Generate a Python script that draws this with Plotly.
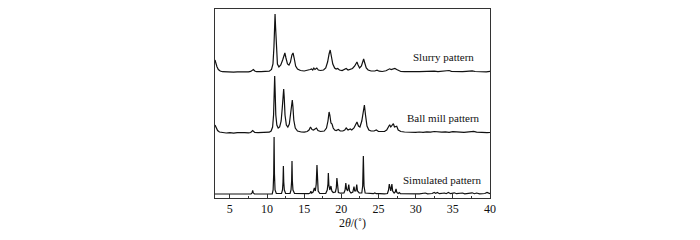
import plotly.graph_objects as go

# 2theta (deg), intensity (a.u., relative to each pattern's own baseline)
sim_points = [(3.0,0),(5.0,0),(7.85,0),(8.0,1.2),(8.07,3.5),(8.14,1.2),(8.3,0),
(10.7,0),(10.82,4),(10.9,20),(10.95,57),(11.0,20),(11.08,4),(11.25,0.5),
(11.95,0.5),(12.08,4),(12.15,12),(12.2,28),(12.25,12),(12.33,4),(12.5,0.5),
(13.1,0.5),(13.23,4),(13.31,13),(13.36,33),(13.41,13),(13.49,4),(13.7,0.5),
(15.6,0.3),(15.8,1),(15.9,2.7),(16.0,1),(16.2,2),(16.37,6),(16.5,3),(16.62,10),(16.72,29),(16.78,11),(16.88,3),(17.1,0.5),
(17.9,0.5),(18.1,4),(18.2,10),(18.25,21),(18.32,9),(18.45,4),(18.6,8),(18.72,3),(18.9,1.5),(19.2,2),(19.32,6),(19.4,16),(19.47,6),(19.6,1.5),(19.9,0.8),
(20.35,1),(20.5,4),(20.6,11),(20.7,5),(20.85,3),(21.0,9.5),(21.1,3),(21.3,1),(21.55,2),(21.7,7.5),(21.8,3),(21.95,3),(22.07,9.5),(22.17,3),(22.4,1),
(22.75,1),(22.87,8),(22.96,38),(23.05,8),(23.2,1),(23.6,0.5),
(24.3,0.3),(24.5,1),(24.7,0.3),(25.2,0.3),(25.5,0.6),(25.8,0.2),
(26.2,0.5),(26.35,4),(26.45,10),(26.55,4),(26.65,3),(26.8,10),(26.9,3),(27.1,1),(27.25,2),(27.36,5),(27.46,1.5),(27.65,0.5),(27.8,1.5),(27.95,0.3),
(29.0,0),(30.5,0.2),(31.3,1),(31.6,0.2),(32.2,0.5),(32.5,1.5),(32.7,0.6),(32.9,1.5),(33.2,0.3),(33.9,1),(34.1,0.3),(34.4,1.5),(34.7,0.3),(35.2,1.2),(35.5,0.3),(36.0,0.8),(36.3,1),(36.6,0.2),(37.3,0.5),(37.6,1.2),(37.9,0.3),(38.2,1),(38.6,0.2),(39.3,0.5),(39.6,1.5),(39.85,0.3),(40,0.3)]

ball_points = [(3.0,8),(3.15,5),(3.35,2.5),(3.6,1),(4.0,0.3),(4.5,0),(5,0.3),(5.5,-0.2),(6,0.3),(6.5,0),(7,0.4),(7.5,0.2),(7.8,0.5),(8.07,2.5),(8.35,0.6),(8.8,0.3),(9.3,0.6),(9.8,0.4),(10.3,0.8),(10.55,2),(10.75,6),(10.88,18),(10.96,40),(11.03,57),(11.1,40),(11.18,18),(11.32,8),(11.5,5),(11.7,6),(11.9,12),(12.05,25),(12.17,40),(12.24,44),(12.31,36),(12.42,18),(12.6,8),(12.8,6),(13.0,9),(13.17,18),(13.3,29),(13.4,33),(13.48,27),(13.6,13),(13.8,5),(14.1,2),(14.6,1),(15.0,0.8),(15.4,1.5),(15.65,3),(15.85,6),(16.05,3.5),(16.25,3),(16.5,4.5),(16.65,5),(16.85,2.5),(17.2,1.5),(17.7,2),(18.0,5),(18.2,12),(18.35,21),(18.45,18),(18.6,10),(18.75,9),(18.9,5),(19.1,3),(19.3,2.5),(19.6,3.5),(19.85,2),(20.2,2),(20.45,3),(20.65,5),(20.9,3),(21.2,4),(21.4,3),(21.7,5),(21.95,9),(22.1,11),(22.3,7),(22.5,6),(22.75,12),(22.95,24),(23.1,28),(23.25,18),(23.45,7),(23.7,3),(24.0,2),(24.4,2),(24.7,3),(25.0,1.5),(25.4,1.2),(25.8,1.5),(26.1,3),(26.35,6),(26.5,8.3),(26.65,6),(26.8,7),(27.0,9.3),(27.15,6),(27.3,6),(27.45,6.7),(27.65,3),(28.0,1.5),(28.5,1),(29,0.8),(29.5,1.2),(30,0.6),(30.5,1),(31,0.7),(31.5,1.2),(32,0.8),(32.5,1.5),(33,1),(33.5,0.8),(34,1.2),(34.5,0.6),(35,1.3),(35.5,0.8),(36,0.9),(36.5,0.6),(37,1),(37.5,1.3),(37.8,1.6),(38.2,0.9),(38.7,0.5),(39.2,0.8),(39.6,0.3),(40,0.5)]

slurry_points = [(3.0,12),(3.1,9),(3.25,5.5),(3.45,2.5),(3.7,1),(4.0,0.3),(4.5,0),(5,0.2),(5.5,-0.2),(6,0.2),(6.5,0),(7,0.3),(7.5,0.1),(7.8,0.6),(8.0,1.5),(8.16,2.5),(8.35,1),(8.6,0.3),(9.2,0.4),(9.8,0.3),(10.3,0.8),(10.6,2.5),(10.8,8),(10.93,25),(11.02,50),(11.08,58),(11.15,45),(11.25,20),(11.4,8),(11.6,5),(11.85,7),(12.1,12),(12.28,18),(12.4,19),(12.55,14),(12.75,8),(12.95,7),(13.15,10),(13.35,17),(13.5,19),(13.65,14),(13.85,6),(14.1,3),(14.5,1.5),(15.0,1),(15.5,1.5),(15.8,2.5),(16.0,3),(16.15,2),(16.3,4),(16.45,2.5),(16.7,4),(16.9,2),(17.2,1.5),(17.6,2),(17.9,4),(18.15,10),(18.35,18),(18.5,22),(18.65,16),(18.85,8),(19.1,4),(19.3,3),(19.5,3.5),(19.75,2),(20.1,1.5),(20.4,2.5),(20.65,3.5),(20.9,2),(21.2,2.5),(21.5,3.5),(21.8,6),(22.0,9),(22.1,10),(22.25,7),(22.45,4),(22.7,6),(22.9,11),(23.0,13),(23.15,9),(23.35,4),(23.6,2),(24.0,1),(24.5,1),(24.8,1.8),(25.1,0.8),(25.5,0.5),(26.0,1.2),(26.3,2.5),(26.5,3.2),(26.7,2.5),(26.9,3),(27.2,3.5),(27.45,2.5),(27.7,1.2),(28.0,0.5),(28.5,0.3),(29,0.6),(29.5,0.2),(30,0.5),(30.5,0.3),(31,0.6),(31.5,0.2),(32,0.5),(32.5,0.8),(33,0.4),(33.5,0.6),(34,0.8),(34.5,1.5),(34.8,0.7),(35.3,0.4),(35.8,0.8),(36.3,0.3),(36.8,0.6),(37.3,0.8),(37.6,1.2),(38,0.5),(38.5,0.3),(39,0.7),(39.5,0.2),(40,0.6)]

pattern_names = ["Slurry pattern", "Ball mill pattern", "Simulated pattern"]
pattern_offsets = [126, 65, 4]
label_x = [33.8, 33.8, 33.6]
label_y = [141, 80, 18]
x_ticks = [5, 10, 15, 20, 25, 30, 35, 40]

FONT = "Liberation Serif, Times New Roman, serif"
fig = go.Figure()
for pts, off in zip([slurry_points, ball_points, sim_points], pattern_offsets):
    fig.add_trace(go.Scatter(
        x=[p[0] for p in pts], y=[p[1] + off for p in pts],
        mode="lines", line=dict(color="#111111", width=1.2), showlegend=False))

for name, lx, ly in zip(pattern_names, label_x, label_y):
    fig.add_annotation(x=lx, y=ly, text=name, showarrow=False,
                       font=dict(family=FONT, size=11, color="#111111"))

fig.update_layout(
    width=700, height=240,
    margin=dict(l=207, r=218, t=1, b=50),
    paper_bgcolor="white", plot_bgcolor="white",
    font=dict(family=FONT, size=12, color="#111111"),
    xaxis=dict(range=[3, 40], tickvals=x_ticks, ticks="inside", ticklen=4,
               tickcolor="#333333", showline=True, linecolor="#333333", linewidth=1,
               mirror=True, showgrid=False, zeroline=False,
               minor=dict(ticks="inside", dtick=2.5, tick0=0, ticklen=2, tickcolor="#333333"),
               title=dict(text="2<i>θ</i>/(˚)", font=dict(family=FONT, size=12), standoff=3),
               tickfont=dict(family=FONT, size=12)),
    yaxis=dict(range=[0, 189], showticklabels=False, ticks="", showline=True,
               linecolor="#333333", linewidth=1, mirror=True, showgrid=False, zeroline=False),
)
fig.write_html("out.html")
